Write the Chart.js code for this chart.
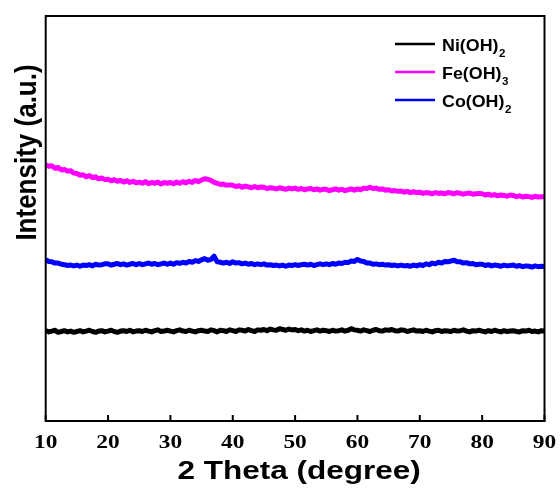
<!DOCTYPE html>
<html>
<head>
<meta charset="utf-8">
<script src="https://cdn.jsdelivr.net/npm/chart.js@4"></script>
<style>
  html, body { margin: 0; padding: 0; background: #ffffff; }
  canvas { display: block; }
</style>
</head>
<body>
<canvas id="xrd" width="560" height="488"></canvas>
<script>
// Scan angles, 2θ in degrees (0.5° step)
const twoTheta = [
  10, 10.5, 11, 11.5, 12, 12.5, 13, 13.5, 14, 14.5,
  15, 15.5, 16, 16.5, 17, 17.5, 18, 18.5, 19, 19.5,
  20, 20.5, 21, 21.5, 22, 22.5, 23, 23.5, 24, 24.5,
  25, 25.5, 26, 26.5, 27, 27.5, 28, 28.5, 29, 29.5,
  30, 30.5, 31, 31.5, 32, 32.5, 33, 33.5, 34, 34.5,
  35, 35.5, 36, 36.5, 37, 37.5, 38, 38.5, 39, 39.5,
  40, 40.5, 41, 41.5, 42, 42.5, 43, 43.5, 44, 44.5,
  45, 45.5, 46, 46.5, 47, 47.5, 48, 48.5, 49, 49.5,
  50, 50.5, 51, 51.5, 52, 52.5, 53, 53.5, 54, 54.5,
  55, 55.5, 56, 56.5, 57, 57.5, 58, 58.5, 59, 59.5,
  60, 60.5, 61, 61.5, 62, 62.5, 63, 63.5, 64, 64.5,
  65, 65.5, 66, 66.5, 67, 67.5, 68, 68.5, 69, 69.5,
  70, 70.5, 71, 71.5, 72, 72.5, 73, 73.5, 74, 74.5,
  75, 75.5, 76, 76.5, 77, 77.5, 78, 78.5, 79, 79.5,
  80, 80.5, 81, 81.5, 82, 82.5, 83, 83.5, 84, 84.5,
  85, 85.5, 86, 86.5, 87, 87.5, 88, 88.5, 89, 89.5,
  90
];

// Intensity (a.u., offset traces)
const niOH2 = [
  223, 220, 222, 224, 219, 221, 223, 220, 222, 219,
  221, 223, 220, 222, 224, 221, 219, 222, 223, 220,
  222, 224, 221, 219, 222, 223, 221, 224, 220, 222,
  223, 221, 224, 222, 220, 223, 225, 221, 222, 224,
  222, 220, 223, 225, 222, 221, 224, 222, 220, 223,
  224, 222, 221, 225, 223, 220, 224, 223, 221, 225,
  223, 221, 225, 224, 222, 226, 223, 221, 225, 224,
  226, 223, 227, 225, 224, 228, 226, 224, 227, 225,
  226, 223, 225, 222, 224, 221, 223, 225, 222, 224,
  223, 221, 224, 222, 223, 225, 222, 224, 228, 225,
  224, 222, 225, 223, 221, 224, 226, 223, 222, 225,
  224, 226, 223, 222, 225, 224, 221, 223, 225, 222,
  223, 221, 224, 222, 220, 223, 224, 221, 223, 222,
  221, 224, 222, 223, 225, 222, 220, 223, 222, 224,
  222, 220, 223, 221, 224, 222, 220, 223, 221, 222,
  223, 221, 220, 223, 222, 224, 221, 222, 220, 223,
  222
];

const feOH3 = [
  633, 629, 630, 624, 626, 620, 621, 617, 618, 612,
  611, 607, 608, 603, 606, 601, 603, 598, 600, 596,
  597, 593, 596, 592, 594, 590, 593, 589, 592, 588,
  590, 587, 591, 586, 589, 587, 590, 585, 589, 587,
  589, 586, 590, 587, 591, 588, 592, 589, 594, 591,
  595, 598, 597, 594, 589, 587, 584, 585, 582, 583,
  582, 579, 581, 577, 580, 578, 576, 579, 576, 578,
  577, 574, 576, 575, 573, 576, 574, 572, 575, 573,
  575, 572, 574, 571, 573, 574, 571, 573, 570, 572,
  572, 569, 571, 573, 570, 572, 569, 571, 573, 570,
  573, 571, 575, 574, 577, 574, 575, 572, 573, 570,
  571, 568, 569, 567, 568, 565, 567, 564, 566, 564,
  565, 562, 564, 563, 561, 564, 562, 563, 561, 564,
  563, 561, 564, 562, 560, 562, 563, 560, 561, 562,
  561, 558, 560, 557, 559, 556, 558, 557, 555, 558,
  557, 554, 556, 553, 555, 554, 552, 555, 553, 554,
  554
];

const coOH2 = [
  398, 394, 393, 390, 390, 387, 386, 384, 385, 383,
  385, 382, 385, 384, 386, 383, 387, 385, 386, 388,
  388, 385, 387, 389, 386, 388, 385, 387, 389, 386,
  389, 386, 388, 390, 387, 389, 386, 388, 390, 387,
  390, 387, 391, 389, 392, 390, 394, 392, 396, 394,
  398, 401, 397, 399, 407, 393, 392, 390, 392, 389,
  393, 390, 391, 388, 390, 387, 389, 386, 388, 386,
  388, 385, 386, 384, 385, 383, 385, 382, 385, 384,
  386, 384, 386, 387, 385, 387, 384, 386, 388, 386,
  388, 386, 389, 387, 390, 389, 392, 391, 395, 394,
  399, 395, 394, 390, 390, 387, 388, 386, 387, 385,
  386, 384, 385, 383, 385, 383, 384, 382, 385, 383,
  386, 384, 388, 386, 390, 388, 392, 390, 394, 393,
  395, 397, 393, 393, 390, 391, 388, 389, 386, 387,
  387, 384, 386, 383, 385, 384, 382, 385, 383, 384,
  385, 382, 384, 381, 383, 382, 380, 383, 381, 382,
  381
];

// Axis ticks and legend entries (formula text with subscript)
const xTickValues = [10, 20, 30, 40, 50, 60, 70, 80, 90];
const seriesNames = ['Ni(OH)', 'Fe(OH)', 'Co(OH)'];
const seriesSubscripts = ['2', '3', '2'];
const seriesColors = ['#000000', '#ff00ff', '#0000ff'];
const seriesValues = [niOH2, feOH3, coOH2];

const xTitle = '2 Theta (degree)';
const yTitle = 'Intensity (a.u.)';

function toPoints(values) {
  return values.map((v, i) => ({ x: twoTheta[i], y: v }));
}

// Frame, inward ticks, axis labels and the legend
const decorations = {
  id: 'decorations',
  afterDraw(chart) {
    const { ctx, chartArea: a, scales } = chart;
    const xs = scales.x;
    ctx.save();

    // plot frame
    ctx.strokeStyle = '#000';
    ctx.lineWidth = 2;
    ctx.strokeRect(a.left, a.top, a.right - a.left, a.bottom - a.top);

    // inward ticks on the bottom axis
    ctx.lineWidth = 2;
    xTickValues.forEach(v => {
      const px = xs.getPixelForValue(v);
      ctx.beginPath();
      ctx.moveTo(px, a.bottom);
      ctx.lineTo(px, a.bottom - 6);
      ctx.stroke();
    });

    // tick labels
    ctx.fillStyle = '#000';
    ctx.font = 'bold 18px "Liberation Serif"';
    ctx.textAlign = 'center';
    ctx.textBaseline = 'alphabetic';
    xTickValues.forEach(v => {
      const px = xs.getPixelForValue(v);
      ctx.save();
      ctx.translate(px, 447.5);
      ctx.scale(1.3, 1);
      ctx.fillText(String(v), 0, 0);
      ctx.restore();
    });

    // x axis title
    ctx.save();
    ctx.font = 'bold 25px "Liberation Sans"';
    ctx.translate((a.left + a.right) / 2 + 4, 479);
    ctx.scale(1.26, 1);
    ctx.fillText(xTitle, 0, 0);
    ctx.restore();

    // y axis title
    ctx.save();
    ctx.font = 'bold 26px "Liberation Sans"';
    ctx.translate(28, 152.5);
    ctx.rotate(-Math.PI / 2);
    ctx.scale(1, 1.15);
    ctx.textBaseline = 'middle';
    ctx.fillText(yTitle, 0, 0);
    ctx.restore();

    // legend
    const lx0 = 395, lx1 = 435, tx = 442;
    const rowY = [44, 72, 100];
    ctx.textAlign = 'left';
    ctx.textBaseline = 'alphabetic';
    seriesNames.forEach((name, i) => {
      const y = rowY[i];
      ctx.strokeStyle = seriesColors[i];
      ctx.lineWidth = 2.7;
      ctx.beginPath();
      ctx.moveTo(lx0, y);
      ctx.lineTo(lx1, y);
      ctx.stroke();

      ctx.fillStyle = '#000';
      ctx.save();
      ctx.translate(tx, y + 6.5);
      ctx.scale(1.05, 1);
      ctx.font = 'bold 17px "Liberation Sans"';
      ctx.fillText(name, 0, 0);
      const w = ctx.measureText(name).width;
      ctx.font = 'bold 11px "Liberation Sans"';
      ctx.fillText(seriesSubscripts[i], w + 0.5, 6);
      ctx.restore();
    });

    ctx.restore();
  }
};

new Chart(document.getElementById('xrd'), {
  type: 'line',
  data: {
    datasets: seriesNames.map((name, i) => ({
      label: name + seriesSubscripts[i],
      data: toPoints(seriesValues[i]),
      borderColor: seriesColors[i],
      backgroundColor: seriesColors[i],
      borderWidth: 5,
      borderJoinStyle: 'round',
      pointRadius: 0,
      tension: 0,
      fill: false
    }))
  },
  options: {
    responsive: false,
    animation: false,
    layout: { padding: { left: 45.7, top: 16, right: 15.5, bottom: 67 } },
    scales: {
      x: { type: 'linear', min: 10, max: 90, display: false },
      y: { type: 'linear', min: 0, max: 1000, display: false }
    },
    plugins: {
      legend: { display: false },
      tooltip: { enabled: false }
    }
  },
  plugins: [decorations]
});
</script>
</body>
</html>
